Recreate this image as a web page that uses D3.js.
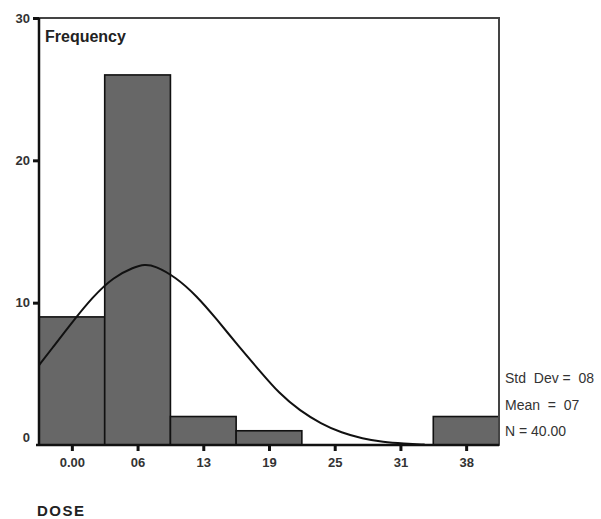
<!DOCTYPE html>
<html>
<head>
<meta charset="utf-8">
<script src="https://cdn.jsdelivr.net/npm/d3@7"></script>
<style>
  body { margin: 0; background: #fff; }
  text { font-family: Arial, "Liberation Sans", sans-serif; }
</style>
</head>
<body>
<div id="chart"></div>
<script>
// histogram bins (bin centres labelled as in the picture)
var binLabels = ["0.00", "06", "13", "19", "25", "31", "38"];
var binCounts = [9, 26, 2, 1, 0, 0, 2];
var binWidth = 38 / 6;

// fitted normal curve
var curveDose = [-3.17, -2, 0, 2, 4, 6, 7, 8, 10, 12, 14, 16, 18, 20, 22, 24, 26, 28, 30, 32, 34];
var curveFreq = [5.6, 6.7, 8.6, 10.4, 11.8, 12.5, 12.7, 12.6, 11.8, 10.5, 8.8, 7.0, 5.3, 3.6, 2.4, 1.5, 0.85, 0.45, 0.2, 0.1, 0.03];

var yTicks = [0, 10, 20, 30];
var statLines = ["Std  Dev =  08", "Mean  =  07", "N = 40.00"];

var margin = {top: 18, right: 102, bottom: 74, left: 39};
var width = 601 - margin.left - margin.right;
var height = 519 - margin.top - margin.bottom;

var svg = d3.select("#chart")
  .append("svg")
    .attr("width", 601)
    .attr("height", 519)
  .append("g")
    .attr("transform", "translate(" + margin.left + "," + margin.top + ")");

var x = d3.scaleLinear()
  .domain([-binWidth / 2, 38 + binWidth / 2])
  .range([0, width]);

var y = d3.scaleLinear()
  .domain([0, 30])
  .range([height, 0]);

// bars
svg.selectAll(".bar")
  .data(binCounts)
  .enter()
  .append("rect")
    .attr("class", "bar")
    .attr("x", function(d, i) { return x(i * binWidth - binWidth / 2); })
    .attr("y", function(d) { return y(d); })
    .attr("width", function(d, i) { return x(binWidth) - x(0); })
    .attr("height", function(d) { return height - y(d); })
    .attr("fill", "#676767")
    .attr("stroke", "#111")
    .attr("stroke-width", 1.6)
    .style("display", function(d) { return d > 0 ? null : "none"; });

// normal curve
var line = d3.line()
  .x(function(d, i) { return x(curveDose[i]); })
  .y(function(d) { return y(d); })
  .curve(d3.curveBasis);

svg.append("path")
  .datum(curveFreq)
  .attr("d", line)
  .attr("fill", "none")
  .attr("stroke", "#111")
  .attr("stroke-width", 2);

// frame top + right
svg.append("path")
  .attr("d", "M0,0H" + width + "V" + height)
  .attr("fill", "none")
  .attr("stroke", "#444")
  .attr("stroke-width", 2);

// x axis
var xAxis = svg.append("g")
  .attr("transform", "translate(0," + height + ")")
  .call(d3.axisBottom(x)
    .tickValues(binLabels.map(function(d, i) { return i * binWidth; }))
    .tickFormat(function(d, i) { return binLabels[i]; })
    .tickSize(6)
    .tickPadding(7));
xAxis.select(".domain")
  .attr("d", "M-3,0H" + width)
  .attr("stroke", "#111")
  .attr("stroke-width", 2.5);
xAxis.selectAll(".tick line").attr("stroke", "#111").attr("stroke-width", 3);
xAxis.selectAll(".tick text")
  .attr("fill", "#333")
  .style("font-size", "13px")
  .style("font-weight", "bold");

// y axis
var yAxis = svg.append("g")
  .call(d3.axisLeft(y)
    .tickValues(yTicks)
    .tickSize(6)
    .tickPadding(3));
yAxis.select(".domain")
  .attr("d", "M0,0V" + height)
  .attr("stroke", "#111")
  .attr("stroke-width", 2.5);
yAxis.selectAll(".tick line")
  .attr("stroke", "#111")
  .attr("stroke-width", 3)
  .style("display", function(d) { return d === 0 ? "none" : null; });
yAxis.selectAll(".tick text")
  .attr("fill", "#333")
  .attr("dy", function(d) { return d === 0 ? "-0.3em" : "0.32em"; })
  .style("font-size", "13px")
  .style("font-weight", "bold");

// labels
svg.append("text")
  .attr("x", 6)
  .attr("y", 24)
  .attr("fill", "#222")
  .style("font-size", "16px")
  .style("font-weight", "bold")
  .text("Frequency");

svg.append("text")
  .attr("x", -2)
  .attr("y", 498)
  .attr("fill", "#222")
  .style("font-size", "15px")
  .style("font-weight", "bold")
  .style("letter-spacing", "1.5px")
  .text("DOSE");

svg.selectAll(".stat")
  .data(statLines)
  .enter()
  .append("text")
    .attr("class", "stat")
    .attr("x", width + 6)
    .attr("y", function(d, i) { return 365 + i * 26.5; })
    .attr("fill", "#333")
    .style("font-size", "14px")
    .style("white-space", "pre")
    .text(function(d) { return d; });
</script>
</body>
</html>
